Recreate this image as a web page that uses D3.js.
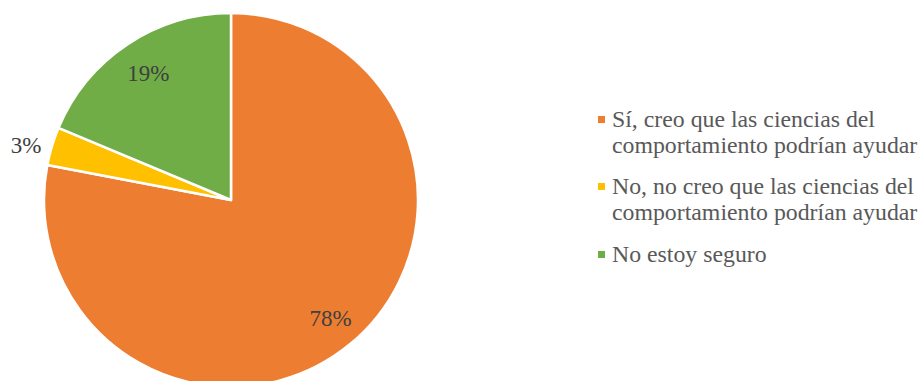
<!DOCTYPE html>
<html><head><meta charset="utf-8">
<script src="https://cdn.jsdelivr.net/npm/d3@7"></script>
<style>body{margin:0;background:#fff}svg{display:block}</style>
</head><body>
<svg id="c" width="923" height="381"></svg>
<script>
const categories = ["Sí, creo que las ciencias del comportamiento podrían ayudar",
  "No, no creo que las ciencias del comportamiento podrían ayudar",
  "No estoy seguro"];
const legendLines = [["Sí, creo que las ciencias del","comportamiento podrían ayudar"],
  ["No, no creo que las ciencias del","comportamiento podrían ayudar"],
  ["No estoy seguro"]];
const values = [78.0, 3.3, 18.7];
const labels = ["78%", "3%", "19%"];
const colors = ["#ED7D31", "#FFC000", "#70AD47"];

const svg = d3.select("#c");
const cx = 231, cy = 200, R = 187;
const g = svg.append("g").attr("transform", `translate(${cx},${cy})`);
const pie = d3.pie().sort(null).value(d => d)(values);
const arc = d3.arc().innerRadius(0).outerRadius(R);
g.selectAll("path").data(pie).join("path")
  .attr("d", arc).attr("fill", (d,i) => colors[i])
  .attr("stroke", "#fff").attr("stroke-width", 2.5).attr("stroke-linejoin","round");

const outside = (i) => i === 1;
const labelR = (i) => outside(i) ? 212 : 153;
const pos = (d,i) => d3.arc().innerRadius(labelR(i)).outerRadius(labelR(i)).centroid(d);
g.selectAll("text.lbl").data(pie).join("text").attr("class","lbl")
  .attr("x", (d,i) => pos(d,i)[0] - (outside(i) ? 2 : -2))
  .attr("y", (d,i) => pos(d,i)[1] + (outside(i) ? 14 : 8))
  .attr("text-anchor","middle")
  .attr("font-family","'Liberation Serif','Times New Roman',serif")
  .attr("font-size", 23).attr("fill","#404040")
  .text((d,i) => labels[i]);

const leg = svg.append("g");
const itemY = [127, 194, 262];
categories.forEach((c, i) => {
  leg.append("rect").attr("x", 598).attr("y", itemY[i] - 11).attr("width", 7).attr("height", 7).attr("fill", colors[i]);
  const t = leg.append("text").attr("x", 612).attr("y", itemY[i])
    .attr("font-family","'Liberation Serif','Times New Roman',serif")
    .attr("font-size", 23.8).attr("fill","#595959");
  legendLines[i].forEach((l, j) => {
    t.append("tspan").attr("x", 612).attr("dy", j === 0 ? 0 : 26).text(l);
  });
});
</script>
</body></html>
